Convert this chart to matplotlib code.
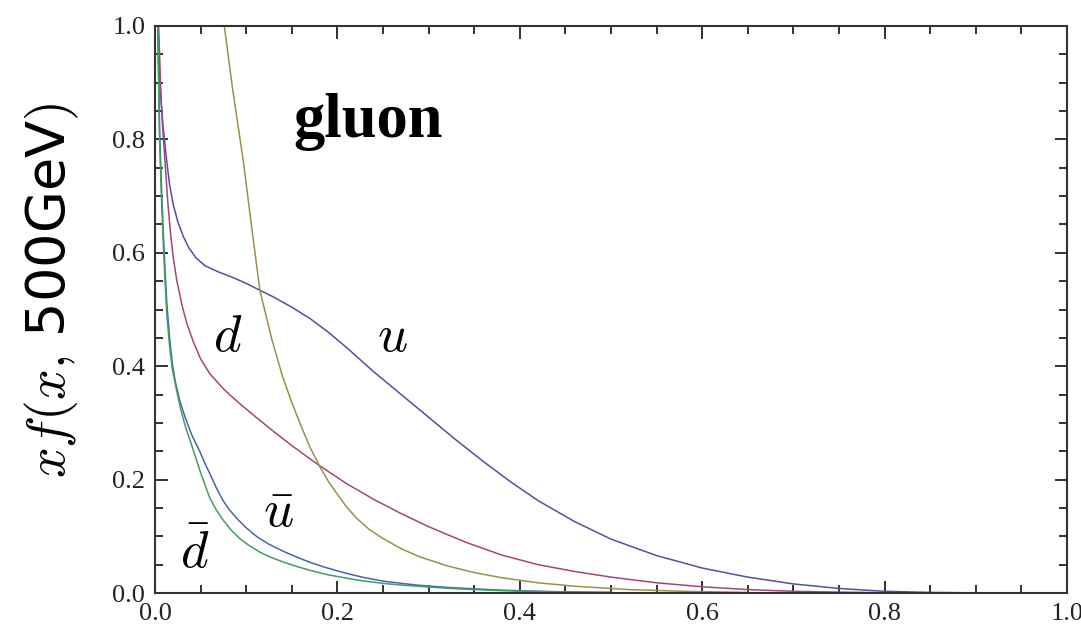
import matplotlib
matplotlib.use("Agg")
import matplotlib.pyplot as plt
from matplotlib.ticker import MultipleLocator

plt.rcParams["mathtext.fontset"] = "cm"

# x f(x, 500 GeV)
u_x = [0.003, 0.006, 0.009, 0.013, 0.016, 0.020, 0.025, 0.031, 0.037, 0.045, 0.055, 0.07, 0.086,
       0.10, 0.115, 0.13, 0.15, 0.17, 0.19, 0.21, 0.24, 0.27, 0.30, 0.33, 0.36, 0.39, 0.42, 0.46,
       0.50, 0.55, 0.60, 0.65, 0.70, 0.75, 0.80, 0.85, 0.90]
u_y = [1.0, 0.88, 0.82, 0.76, 0.72, 0.685, 0.655, 0.629, 0.609, 0.591, 0.577, 0.566, 0.556,
       0.546, 0.534, 0.522, 0.504, 0.484, 0.46, 0.433, 0.39, 0.35, 0.31, 0.27, 0.232, 0.196, 0.163, 0.126,
       0.095, 0.066, 0.044, 0.028, 0.016, 0.008, 0.003, 0.001, 0.0003]

d_x = [0.004, 0.006, 0.008, 0.011, 0.014, 0.017, 0.020, 0.024, 0.030, 0.035, 0.042, 0.050, 0.060,
       0.075, 0.09, 0.11, 0.13, 0.15, 0.18, 0.21, 0.24, 0.27, 0.30, 0.34, 0.38, 0.42, 0.46, 0.50,
       0.55, 0.60, 0.65, 0.70, 0.75, 0.80]
d_y = [1.0, 0.90, 0.83, 0.76, 0.69, 0.635, 0.592, 0.55, 0.505, 0.475, 0.443, 0.413, 0.387,
       0.36, 0.338, 0.311, 0.285, 0.26, 0.225, 0.193, 0.165, 0.14, 0.117, 0.09, 0.067, 0.050, 0.038, 0.028,
       0.018, 0.011, 0.006, 0.003, 0.0015, 0.0005]

g_x = [0.076, 0.085, 0.097, 0.106, 0.115, 0.128, 0.14, 0.15, 0.16, 0.17, 0.181, 0.19, 0.20, 0.21,
       0.221, 0.235, 0.25, 0.27, 0.29, 0.32, 0.35, 0.38, 0.42, 0.46, 0.52, 0.58, 0.65]
g_y = [1.0, 0.89, 0.76, 0.645, 0.534, 0.448, 0.381, 0.336, 0.295, 0.257, 0.222, 0.197, 0.174, 0.152,
       0.132, 0.112, 0.096, 0.078, 0.064, 0.048, 0.036, 0.027, 0.018, 0.012, 0.006, 0.003, 0.001]

ubar_x = [0.003, 0.005, 0.007, 0.009, 0.011, 0.013, 0.016, 0.019, 0.022, 0.027, 0.033, 0.040, 0.049,
          0.055, 0.062, 0.068, 0.075, 0.082, 0.09, 0.10, 0.112, 0.125, 0.135, 0.147, 0.159, 0.172,
          0.185, 0.20, 0.214, 0.23, 0.25, 0.27, 0.287, 0.31, 0.33, 0.355, 0.38, 0.41, 0.44, 0.47, 0.50]
ubar_y = [1.0, 0.82, 0.72, 0.64, 0.57, 0.51, 0.45, 0.405, 0.375, 0.34, 0.31, 0.28, 0.25,
          0.228, 0.204, 0.183, 0.162, 0.146, 0.131, 0.115, 0.099, 0.086, 0.078, 0.069, 0.061, 0.053,
          0.046, 0.039, 0.033, 0.027, 0.021, 0.017, 0.014, 0.011, 0.009, 0.007, 0.005, 0.0035, 0.0023, 0.0015, 0.001]

dbar_x = [0.003, 0.005, 0.007, 0.009, 0.011, 0.013, 0.016, 0.019, 0.024, 0.028, 0.034, 0.042, 0.046,
          0.050, 0.055, 0.060, 0.067, 0.075, 0.084, 0.093, 0.103, 0.115, 0.127, 0.14, 0.155, 0.17,
          0.19, 0.214, 0.23, 0.25, 0.27, 0.287, 0.31, 0.33, 0.355, 0.38, 0.41, 0.44, 0.47, 0.50]
dbar_y = [1.0, 0.80, 0.70, 0.62, 0.55, 0.49, 0.435, 0.395, 0.355, 0.325, 0.29, 0.252, 0.232,
          0.212, 0.19, 0.168, 0.147, 0.128, 0.11, 0.096, 0.084, 0.072, 0.063, 0.055, 0.047, 0.040,
          0.032, 0.025, 0.021, 0.017, 0.014, 0.012, 0.0095, 0.0075, 0.0057, 0.0042, 0.003, 0.002, 0.0014, 0.001]

curves = [
    (u_x, u_y, "#5050a6"),
    (d_x, d_y, "#a3477a"),
    (g_x, g_y, "#9c9048"),
    (ubar_x, ubar_y, "#4a62b0"),
    (dbar_x, dbar_y, "#3f9f5c"),
]

fig = plt.figure(figsize=(10.81, 6.33), dpi=100)
ax = fig.add_axes([155 / 1081, 1 - 593 / 633, 912 / 1081, 567 / 633])

for xs, ys, col in curves:
    ax.plot(xs, ys, color=col, lw=1.1, solid_joinstyle="round")

ax.set_xlim(0, 1)
ax.set_ylim(0, 1)
ax.xaxis.set_major_locator(MultipleLocator(0.2))
ax.xaxis.set_minor_locator(MultipleLocator(0.05))
ax.yaxis.set_major_locator(MultipleLocator(0.2))
ax.yaxis.set_minor_locator(MultipleLocator(0.05))
ax.xaxis.set_major_formatter(lambda v, p: f"{v:.1f}")
ax.yaxis.set_major_formatter(lambda v, p: f"{v:.1f}")

for sp in ax.spines.values():
    sp.set_linewidth(1.5)
    sp.set_color("#333333")
ax.tick_params(which="both", direction="in", top=True, right=True, color="#222222", width=1.3)
ax.tick_params(which="major", length=9)
ax.tick_params(which="minor", length=5.5)
ax.tick_params(axis="both", which="major", labelsize=19, pad=7, labelcolor="#222222")
for lab in ax.get_xticklabels() + ax.get_yticklabels():
    lab.set_family("Liberation Serif")

# curve labels
ax.text(0.234, 0.804, "gluon", fontsize=45, fontweight="bold", family="Liberation Serif",
        ha="center", va="baseline")
ax.text(0.080, 0.427, r"$d$", fontsize=38, ha="center", va="baseline")
ax.text(0.260, 0.427, r"$u$", fontsize=38, ha="center", va="baseline")
ax.text(0.135, 0.116, r"$\bar{u}$", fontsize=38, ha="center", va="baseline")
ax.text(0.044, 0.044, r"$\bar{d}$", fontsize=38, ha="center", va="baseline")

fig.text(52 / 1081, 1 - 290 / 633, r"$xf(x,\,$500GeV$)$", fontsize=39, rotation=90,
         ha="center", va="center", family="DejaVu Sans")

fig.savefig("out.png", dpi=100)
